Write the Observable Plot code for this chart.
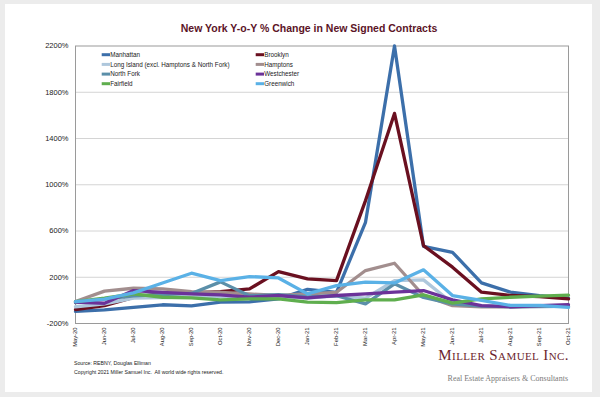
<!DOCTYPE html>
<html><head><meta charset="utf-8">
<script src="https://cdn.jsdelivr.net/npm/d3@7"></script>
<script src="https://cdn.jsdelivr.net/npm/@observablehq/plot@0.6"></script>
<style>
html,body{margin:0;padding:0;background:#ececec;width:600px;height:397px;overflow:hidden;font-family:"Liberation Sans",Arial,sans-serif;}
#card{position:absolute;left:5px;top:4px;width:587px;height:388px;background:#fff;}
#chart{position:absolute;left:0;top:0;}
#overlay{position:absolute;left:0;top:0;}
</style></head><body>
<div id="card"></div>
<div id="chart"></div>
<svg id="overlay" width="600" height="397"></svg>
<script>
const months = ["May-20","Jun-20","Jul-20","Aug-20","Sep-20","Oct-20","Nov-20","Dec-20","Jan-21","Feb-21","Mar-21","Apr-21","May-21","Jun-21","Jul-21","Aug-21","Sep-21","Oct-21"];
const seriesNames = ["Manhattan","Brooklyn","Long Island (excl. Hamptons & North Fork)","Hamptons","North Fork","Westchester","Fairfield","Greenwich"];
const seriesColors = ["#3c6faa","#6a1020","#aec7dc","#a28e8e","#5b8fa9","#6b3299","#5fae4e","#5ab1e6"];
const manhattan   = [-95,-82,-60,-38,-48,-16,-13,13,95,70,675,2200,468,416,151,71,42,20];
const brooklyn    = [-80,-45,25,60,65,75,99,249,186,171,863,1617,474,287,71,42,33,13];
const longIsland  = [-55,-30,20,25,30,35,25,30,20,40,20,170,177,-25,-50,-55,-55,-50];
const hamptons    = [-10,80,105,100,75,70,55,42,56,70,258,321,42,-45,-55,-55,-52,-50];
const northFork   = [-20,10,40,50,60,160,40,50,30,40,-30,143,25,-30,-50,-55,-50,-50];
const westchester = [-15,-25,85,70,56,47,27,42,22,42,56,71,85,4,-45,-55,-45,-36];
const fairfield   = [-10,20,56,27,22,4,13,13,-16,-20,5,4,47,-24,13,27,36,45];
const greenwich   = [-10,10,65,150,235,171,206,194,56,128,157,151,264,42,-1,-44,-44,-60];
const yTicks = [-200,200,600,1000,1400,1800,2200];

const allSeries = [manhattan,brooklyn,longIsland,hamptons,northFork,westchester,fairfield,greenwich];
const data = [];
allSeries.forEach((arr,si)=>arr.forEach((v,i)=>data.push({series:seriesNames[si],month:months[i],value:v})));

const chart = Plot.plot({
  width:600, height:397,
  marginLeft:75, marginRight:32, marginTop:45.5, marginBottom:74,
  style:{fontFamily:"'Liberation Sans',Arial,sans-serif", color:"#222", background:"transparent"},
  x:{type:"point", domain:months, padding:0, label:null},
  y:{domain:[-200,2200], label:null},
  color:{domain:seriesNames, range:seriesColors},
  marks:[
    Plot.gridY(yTicks.slice(1,-1), {stroke:"#d4d4d4", strokeOpacity:1, strokeWidth:1}),
    Plot.frame({stroke:"#9a9a9a"}),
    Plot.axisY(yTicks, {tickSize:0, tickPadding:7, tickFormat:d=>d+"%", fontSize:7.5, label:null}),
    Plot.axisX({tickSize:0, tickRotate:-90, tickPadding:4, fontSize:5.8, label:null}),
    Plot.line(data, {x:"month", y:"value", z:"series", stroke:"series", strokeWidth:3.3, strokeLinejoin:"round"})
  ]
});
document.getElementById("chart").appendChild(chart);

const ov = d3.select("#overlay");
ov.append("text").attr("x",309).attr("y",31.5).attr("text-anchor","middle")
  .attr("font-size",10.5).attr("font-weight","bold").attr("fill","#5b1427")
  .attr("font-family","'Liberation Sans',Arial,sans-serif")
  .text("New York Y-o-Y % Change in New Signed Contracts");

const legX = [101.7, 255.7];
const legY = [54.7, 64.4, 74.1, 83.7];
seriesNames.forEach((n,i)=>{
  const col = i%2, row = Math.floor(i/2);
  const x = legX[col], y = legY[row];
  ov.append("line").attr("x1",x).attr("x2",x+8.3).attr("y1",y).attr("y2",y)
    .attr("stroke",seriesColors[i]).attr("stroke-width",3);
  ov.append("text").attr("x",x+8.5).attr("y",y+2.2).attr("font-size",6.3)
    .attr("fill","#222").attr("font-family","'Liberation Sans',Arial,sans-serif").text(n);
});

ov.append("text").attr("x",74).attr("y",365.3).attr("font-size",5.2).attr("fill","#222")
  .attr("font-family","'Liberation Sans',Arial,sans-serif").text("Source: REBNY, Douglas Elliman");
ov.append("text").attr("x",74).attr("y",373.6).attr("font-size",5.2).attr("fill","#222")
  .attr("font-family","'Liberation Sans',Arial,sans-serif").attr("xml:space","preserve")
  .text("Copyright 2021 Miller Samuel Inc.  All world wide rights reserved.");
ov.append("text").attr("x",569).attr("y",359.5).attr("text-anchor","end").attr("font-size",15)
  .attr("font-family","'Liberation Serif','Times New Roman',serif").attr("fill","#6d1f2e")
  .style("font-variant","small-caps").attr("letter-spacing",0.4).text("Miller Samuel Inc.");
ov.append("text").attr("x",568).attr("y",381).attr("text-anchor","end").attr("font-size",8)
  .attr("font-family","'Liberation Serif','Times New Roman',serif").attr("fill","#7a7a7a")
  .text("Real Estate Appraisers & Consultants");
</script>
</body></html>
